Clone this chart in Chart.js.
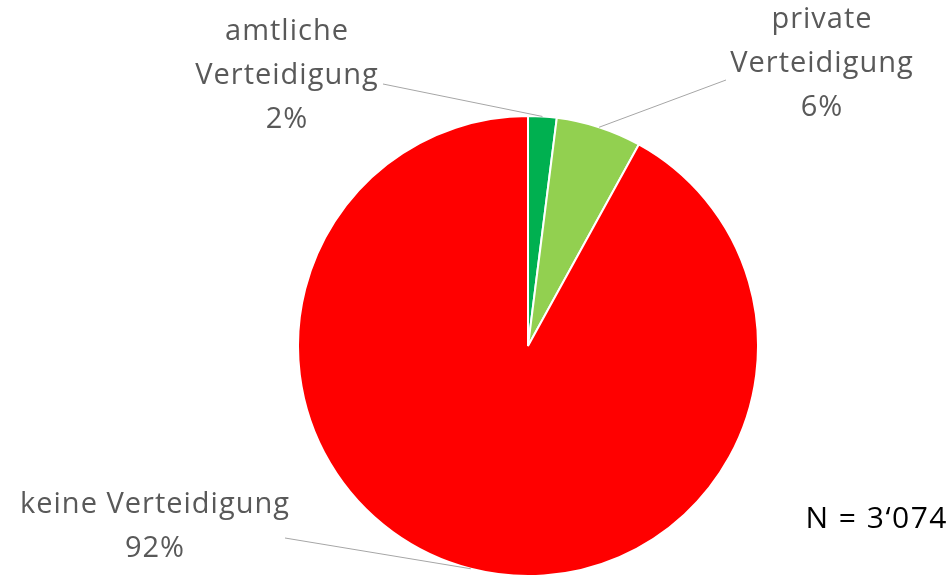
<!DOCTYPE html>
<html>
<head>
<meta charset="utf-8">
<script src="https://cdn.jsdelivr.net/npm/chart.js@4"></script>
<style>
  body { margin: 0; background: #fff; }
  canvas { display: block; }
</style>
</head>
<body>
<canvas id="pieChart" width="952" height="577"></canvas>
<script>
// Datos del gráfico
const labelsLines = [['amtliche', 'Verteidigung'], ['private', 'Verteidigung'], ['keine Verteidigung']];
const categories = ['amtliche Verteidigung', 'private Verteidigung', 'keine Verteidigung'];
const values = [2, 6, 92];
const colors = ['#00B050', '#92D050', '#FF0000'];
const noteText = 'N = 3\u2018074';

// Posición de cada etiqueta (centro del bloque de texto) y punto donde empieza la línea guía
const labelPos = [
  { x: 287, y: 32, lx: 383, ly: 84 },
  { x: 822, y: 20, lx: 726, ly: 80 },
  { x: 155, y: 505, lx: 285, ly: 538 }
];

const FONT = '29px "Open Sans", sans-serif';
const LINE_H = 44;

// Plugin para dibujar etiquetas con líneas guía
const labelPlugin = {
  id: 'pieLabels',
  afterDraw(chart) {
    const ctx = chart.ctx;
    const arcs = chart.getDatasetMeta(0).data;
    const total = values.reduce((a, b) => a + b, 0);
    ctx.save();
    arcs.forEach((arc, i) => {
      const p = labelPos[i];
      const mid = (arc.startAngle + arc.endAngle) / 2;
      const ex = arc.x + Math.cos(mid) * arc.outerRadius;
      const ey = arc.y + Math.sin(mid) * arc.outerRadius;
      // línea guía
      ctx.strokeStyle = '#A6A6A6';
      ctx.lineWidth = 1;
      ctx.letterSpacing = '0px';
      ctx.beginPath();
      ctx.moveTo(p.lx, p.ly);
      ctx.lineTo(ex, ey);
      ctx.stroke();
      // texto
      ctx.fillStyle = '#595959';
      ctx.font = FONT;
      ctx.letterSpacing = '1px';
      ctx.textAlign = 'center';
      ctx.textBaseline = 'middle';
      const lines = labelsLines[i].concat([Math.round(values[i] / total * 100) + '%']);
      lines.forEach((t, k) => ctx.fillText(t, p.x, p.y + k * LINE_H));
    });
    // nota N
    ctx.fillStyle = '#000';
    ctx.font = '30px "Open Sans", sans-serif';
    ctx.letterSpacing = '1.5px';
    ctx.textAlign = 'right';
    ctx.fillText(noteText, 948, 519);
    ctx.restore();
  }
};

const ctx = document.getElementById('pieChart').getContext('2d');
const pieChart = new Chart(ctx, {
  type: 'pie',
  data: {
    labels: categories,
    datasets: [{
      data: values,
      backgroundColor: colors,
      borderColor: '#FFFFFF',
      borderWidth: 2
    }]
  },
  options: {
    responsive: false,
    animation: false,
    layout: { padding: { top: 115, bottom: 0, left: 297, right: 193 } },
    plugins: {
      legend: { display: false },
      tooltip: { enabled: false }
    }
  },
  plugins: [labelPlugin]
});
</script>
</body>
</html>
